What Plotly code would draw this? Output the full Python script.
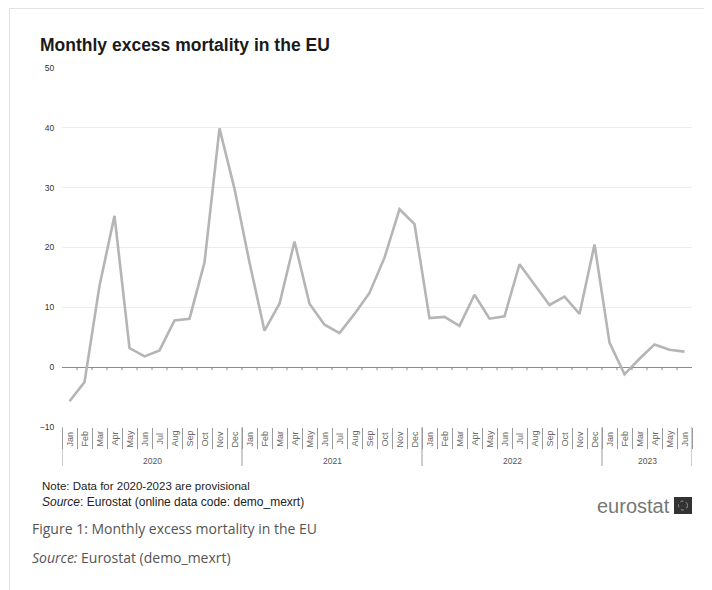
import plotly.graph_objects as go

# ---------------- data ----------------
years = ["2020", "2021", "2022", "2023"]
months_per_year = [12, 12, 12, 6]
month_names = ["Jan", "Feb", "Mar", "Apr", "May", "Jun",
               "Jul", "Aug", "Sep", "Oct", "Nov", "Dec"]
excess_2020 = [-5.7, -2.5, 13.6, 25.3, 3.2, 1.8, 2.8, 7.8, 8.1, 17.5, 39.9, 29.8]
excess_2021 = [17.5, 6.1, 10.6, 21.0, 10.6, 7.1, 5.7, 8.9, 12.4, 18.3, 26.4, 23.9]
excess_2022 = [8.2, 8.4, 6.9, 12.1, 8.1, 8.5, 17.2, 13.8, 10.4, 11.8, 8.9, 20.5]
excess_2023 = [4.1, -1.2, 1.4, 3.8, 2.9, 2.6]
y_ticks = [-10, 0, 10, 20, 30, 40, 50]

excess = excess_2020 + excess_2021 + excess_2022 + excess_2023
period_year, period_month = [], []
for yr, cnt in zip(years, months_per_year):
    for m in month_names[:cnt]:
        period_year.append(yr)
        period_month.append(m)
labels = [f"{m} {y}" for y, m in zip(period_year, period_month)]
n = len(labels)

# ---------------- geometry helpers (screen pixel -> paper) ----------------
OFF = 8                      # page body margin
W, H = 712 - OFF, 590 - OFF  # figure size
L, T = 62 - OFF, 68 - OFF    # plot area top-left in figure coords
PW, PH = 630, 359
R = W - L - PW
B = H - T - PH


def px(x):
    return (x - OFF - L) / PW


def py(y):
    return (T + PH - (y - OFF)) / PH


AX = "Liberation Sans, Arial, sans-serif"
CAP = "Open Sans, sans-serif"

fig = go.Figure()
fig.add_trace(go.Scatter(
    x=labels, y=excess, mode="lines",
    line=dict(color="#b5b5b5", width=2.6),
    showlegend=False, hovertemplate="%{x}: %{y}<extra></extra>"))

shapes = []
annotations = []

# zero-line ticks
for i in range(n - 1):
    shapes.append(dict(type="line", xref="x", yref="y", x0=i + 0.5, x1=i + 0.5,
                       y0=0, y1=-0.5, line=dict(color="#8c8c8c", width=1)))

# year dividers and labels
start = 0
bounds = [0]
for yr, cnt in zip(years, months_per_year):
    annotations.append(dict(x=start + (cnt - 1) / 2, y=py(461), xref="x", yref="paper",
                            text=yr, showarrow=False, xanchor="center", yanchor="middle",
                            font=dict(family=AX, size=8.5, color="#555555")))
    start += cnt
    bounds.append(start)
for b in bounds:
    shapes.append(dict(type="line", xref="x", yref="paper", x0=b - 0.5, x1=b - 0.5,
                       y0=0, y1=py(466), line=dict(color="#9a9a9a", width=1)))

# month labels
for lab, m in zip(labels, period_month):
    annotations.append(dict(x=lab, y=py(439), xref="x", yref="paper", text=m,
                            textangle=-90, showarrow=False, xanchor="center",
                            yanchor="middle",
                            font=dict(family=AX, size=9, color="#666666")))


def txt(x, y, text, family, size, color, anchor="left"):
    annotations.append(dict(x=px(x), y=py(y), xref="paper", yref="paper",
                            text=text, showarrow=False, xanchor=anchor,
                            yanchor="middle", align=anchor,
                            font=dict(family=family, size=size, color=color)))


txt(38, 45, "<b>Monthly excess mortality in the EU</b>", AX, 17.5, "#1a1a1a")
txt(40, 486, "Note: Data for 2020-2023 are provisional", AX, 11.5, "#222222")
txt(40, 502, "<i>Source</i>: Eurostat (online data code: demo_mexrt)", AX, 12, "#222222")
txt(672, 506, "eurostat", AX, 20, "#777777", anchor="right")
txt(30, 528, "Figure 1: Monthly excess mortality in the EU", CAP, 14, "#555555")
txt(30, 557, "<i>Source:</i> Eurostat (demo_mexrt)", CAP, 14, "#555555")

# logo square
shapes.append(dict(type="rect", xref="paper", yref="paper",
                   x0=px(674), x1=px(692), y0=py(514), y1=py(497),
                   fillcolor="#333333", line=dict(width=0)))
shapes.append(dict(type="circle", xref="paper", yref="paper",
                   x0=px(678.5), x1=px(687.5), y0=py(510), y1=py(501),
                   line=dict(color="#9a9a9a", width=1, dash="dot")))
# frame around the figure image
shapes.append(dict(type="line", xref="paper", yref="paper",
                   x0=px(9.5), x1=px(712), y0=py(8.5), y1=py(8.5),
                   line=dict(color="#e3e3e3", width=1)))
shapes.append(dict(type="line", xref="paper", yref="paper",
                   x0=px(9.5), x1=px(9.5), y0=py(8.5), y1=py(590),
                   line=dict(color="#e3e3e3", width=1)))

fig.update_layout(
    width=W, height=H,
    margin=dict(l=L, r=R, t=T, b=B),
    paper_bgcolor="white", plot_bgcolor="white",
    showlegend=False,
    shapes=shapes, annotations=annotations,
    xaxis=dict(type="category", categoryorder="array", categoryarray=labels,
               range=[-0.5, n - 0.5], tickson="boundaries", ticks="outside",
               ticklen=21, tickcolor="#9a9a9a", tickwidth=1,
               showticklabels=False, showgrid=False, showline=False,
               zeroline=False, fixedrange=True),
    yaxis=dict(range=[-10, 50], tickvals=y_ticks, showgrid=True,
               gridcolor="#ececec", gridwidth=1, zeroline=True,
               zerolinecolor="#8c8c8c", zerolinewidth=1, showline=False,
               ticks="outside", ticklen=5, tickcolor="rgba(0,0,0,0)",
               tickfont=dict(family=AX, size=8.5, color="#333333"),
               fixedrange=True),
)

fig.write_html("out.html")
